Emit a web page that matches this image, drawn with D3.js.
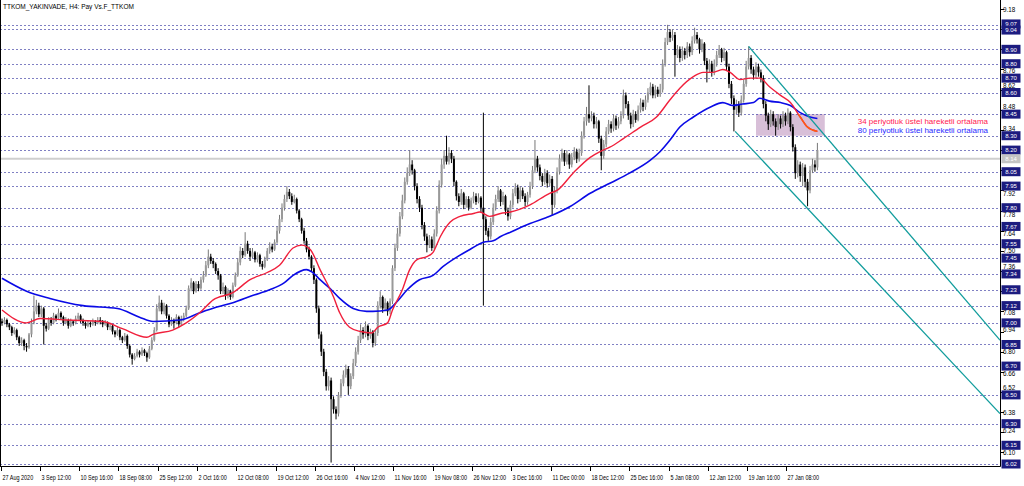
<!DOCTYPE html>
<html><head><meta charset="utf-8">
<script src="https://cdn.jsdelivr.net/npm/d3@7"></script>
<style>html,body{margin:0;padding:0;background:#fff;}svg{display:block;}text{font-family:"Liberation Sans",Arial,sans-serif;}</style>
</head><body><svg id="c" width="1024" height="486"></svg>
<script>
const chartTitle="TTKOM_YAKINVADE, H4:  Pay Vs.F_TTKOM";
const opens=[7.01,7.00,7.02,6.99,6.97,6.93,6.95,6.90,6.86,6.88,
6.84,6.83,6.92,7.00,7.08,7.12,7.06,7.10,6.98,6.96,
7.02,7.00,7.05,7.03,7.07,7.04,7.00,7.02,6.98,7.01,
7.00,7.03,7.05,7.02,7.00,6.98,7.00,6.99,7.01,7.00,
7.02,7.01,6.99,7.00,6.97,6.98,6.94,6.92,6.95,6.90,
6.88,6.91,6.84,6.78,6.75,6.77,6.80,6.78,6.81,6.79,
6.76,6.82,6.88,6.95,7.10,7.14,7.08,7.12,7.05,6.99,
7.02,7.00,7.04,6.99,7.03,7.05,7.10,7.24,7.28,7.22,
7.27,7.24,7.30,7.33,7.40,7.46,7.43,7.41,7.36,7.33,
7.22,7.25,7.19,7.22,7.18,7.26,7.33,7.42,7.50,7.47,
7.55,7.50,7.46,7.49,7.44,7.47,7.41,7.39,7.44,7.50,
7.53,7.51,7.56,7.64,7.72,7.80,7.86,7.91,7.88,7.84,
7.86,7.78,7.72,7.64,7.57,7.51,7.46,7.38,7.30,7.10,
6.92,6.80,6.66,6.56,6.60,6.47,6.40,6.37,6.50,6.58,
6.64,6.68,6.56,6.63,6.72,6.80,6.88,6.95,6.92,6.98,
6.91,6.94,6.86,6.93,7.12,7.18,7.10,7.14,7.08,7.15,
7.38,7.52,7.62,7.74,7.85,7.98,8.04,8.10,8.06,7.95,
7.86,7.80,7.68,7.60,7.54,7.58,7.52,7.62,7.78,7.96,
8.10,8.16,8.12,8.18,8.14,7.98,7.88,7.84,7.90,7.82,
7.86,7.80,7.85,7.88,7.84,7.87,7.80,7.72,7.64,7.60,
7.70,7.80,7.86,7.92,7.84,7.88,7.78,7.74,7.82,7.90,
7.94,7.86,7.92,7.88,7.84,7.89,7.95,8.06,8.14,8.08,
8.02,7.98,8.04,7.97,8.00,7.82,7.92,8.05,8.14,8.18,
8.12,8.17,8.10,8.15,8.19,8.14,8.18,8.30,8.40,8.45,
8.42,8.44,8.38,8.40,8.28,8.16,8.24,8.33,8.38,8.35,
8.42,8.37,8.40,8.44,8.58,8.52,8.44,8.38,8.45,8.41,
8.48,8.53,8.50,8.55,8.60,8.64,8.58,8.62,8.59,8.62,
8.80,8.95,9.02,8.98,9.00,8.86,8.90,8.84,8.89,8.86,
8.92,8.88,8.96,9.00,8.97,8.90,8.94,8.82,8.76,8.80,
8.74,8.80,8.86,8.90,8.84,8.88,8.78,8.66,8.56,8.48,
8.52,8.46,8.55,8.66,8.78,8.84,8.76,8.72,8.78,8.74,
8.70,8.52,8.44,8.38,8.45,8.40,8.36,8.42,8.38,8.44,
8.40,8.46,8.36,8.22,8.04,8.10,8.02,8.08,7.98,7.92,
8.06,8.10,8.08];
const highs=[7.03,7.04,7.03,7.00,6.98,6.97,6.96,6.91,6.90,6.89,
6.86,6.93,7.03,7.19,7.16,7.14,7.12,7.11,7.00,7.04,
7.04,7.07,7.06,7.10,7.08,7.05,7.04,7.03,7.03,7.02,
7.05,7.07,7.06,7.03,7.01,7.02,7.01,7.03,7.02,7.04,
7.04,7.02,7.02,7.01,7.00,6.99,6.95,6.97,6.96,6.91,
6.93,6.92,6.85,6.79,6.79,6.82,6.81,6.83,6.82,6.80,
6.84,6.90,6.97,7.13,7.19,7.16,7.14,7.13,7.06,7.04,
7.03,7.06,7.05,7.05,7.07,7.12,7.26,7.31,7.29,7.29,
7.29,7.32,7.36,7.43,7.51,7.48,7.45,7.42,7.38,7.34,
7.28,7.26,7.24,7.23,7.28,7.35,7.45,7.53,7.52,7.63,
7.57,7.52,7.52,7.50,7.49,7.48,7.43,7.46,7.52,7.56,
7.55,7.58,7.67,7.75,7.83,7.89,7.95,7.93,7.90,7.89,
7.87,7.79,7.73,7.66,7.59,7.53,7.47,7.40,7.31,7.12,
6.94,6.82,6.68,6.63,6.62,6.49,6.42,6.52,6.61,6.67,
6.71,6.70,6.65,6.75,6.83,6.91,6.99,6.97,7.01,6.99,
6.96,6.95,6.95,7.15,7.22,7.19,7.17,7.15,7.17,7.40,
7.55,7.66,7.77,7.89,8.01,8.08,8.20,8.13,8.07,7.97,
7.88,7.82,7.70,7.62,7.61,7.60,7.65,7.81,7.99,8.14,
8.20,8.30,8.22,8.20,8.16,7.99,7.90,7.93,7.91,7.88,
7.88,7.87,7.91,7.90,7.90,7.88,8.46,7.74,7.66,7.73,
7.83,7.89,7.95,7.93,7.91,7.89,7.80,7.85,7.93,7.97,
7.96,7.95,7.94,7.90,7.91,7.98,8.09,8.27,8.16,8.10,
8.04,8.07,8.06,8.03,8.02,7.95,8.08,8.17,8.21,8.20,
8.20,8.18,8.18,8.22,8.21,8.21,8.33,8.43,8.50,8.65,
8.47,8.46,8.43,8.41,8.30,8.27,8.36,8.41,8.40,8.45,
8.44,8.43,8.47,8.62,8.60,8.54,8.46,8.48,8.47,8.51,
8.56,8.55,8.58,8.63,8.67,8.66,8.65,8.64,8.66,8.83,
8.98,9.07,9.04,9.04,9.02,8.93,8.92,8.92,8.91,8.95,
8.94,8.99,9.05,9.02,8.98,8.97,8.95,8.84,8.83,8.82,
8.83,8.89,8.93,8.91,8.91,8.89,8.80,8.68,8.58,8.55,
8.54,8.58,8.69,8.82,8.92,8.86,8.78,8.81,8.80,8.76,
8.72,8.54,8.46,8.48,8.47,8.42,8.45,8.44,8.47,8.46,
8.49,8.47,8.38,8.24,8.13,8.12,8.11,8.10,8.00,8.09,
8.14,8.13,8.25];
const lows=[6.98,6.99,6.97,6.95,6.91,6.92,6.88,6.84,6.84,6.81,
6.80,6.82,6.90,6.99,7.06,7.04,7.04,6.85,6.94,6.95,
6.98,6.99,7.01,7.02,7.02,6.98,6.99,6.96,6.97,6.98,
6.99,7.02,7.00,6.98,6.96,6.97,6.97,6.98,6.98,6.99,
6.99,6.97,6.98,6.95,6.95,6.92,6.90,6.91,6.88,6.86,
6.87,6.82,6.76,6.71,6.74,6.76,6.76,6.77,6.77,6.73,
6.75,6.81,6.87,6.94,7.08,7.06,7.06,7.03,6.97,6.98,
6.96,6.99,6.97,6.98,7.01,7.04,7.09,7.22,7.20,7.21,
7.22,7.23,7.28,7.32,7.38,7.41,7.38,7.34,7.30,7.20,
7.20,7.16,7.17,7.16,7.17,7.25,7.32,7.40,7.45,7.46,
7.48,7.43,7.45,7.42,7.42,7.39,7.37,7.38,7.43,7.48,
7.49,7.50,7.55,7.62,7.70,7.78,7.84,7.86,7.82,7.83,
7.76,7.70,7.62,7.55,7.49,7.44,7.36,7.27,7.07,6.89,
6.77,6.63,6.53,6.53,6.03,6.37,6.33,6.35,6.48,6.56,
6.62,6.50,6.54,6.61,6.70,6.78,6.86,6.89,6.90,6.88,
6.89,6.83,6.84,6.91,7.10,7.07,7.08,7.05,7.06,7.13,
7.36,7.50,7.60,7.72,7.83,7.96,8.02,8.03,7.92,7.83,
7.77,7.65,7.57,7.49,7.52,7.50,7.51,7.60,7.76,7.94,
8.07,8.10,8.10,8.11,7.95,7.85,7.81,7.82,7.79,7.80,
7.78,7.79,7.83,7.82,7.83,7.77,7.12,7.61,7.57,7.58,
7.68,7.78,7.84,7.81,7.82,7.75,7.71,7.72,7.80,7.88,
7.83,7.84,7.86,7.81,7.82,7.87,7.93,8.04,8.05,7.99,
7.95,7.96,7.94,7.95,7.75,7.80,7.90,8.03,8.12,8.09,
8.10,8.07,8.08,8.13,8.11,8.12,8.16,8.28,8.37,8.39,
8.40,8.35,8.35,8.25,8.06,8.14,8.22,8.31,8.32,8.33,
8.34,8.35,8.38,8.42,8.49,8.41,8.35,8.36,8.39,8.40,
8.46,8.47,8.48,8.53,8.58,8.56,8.56,8.57,8.57,8.60,
8.78,8.93,8.95,8.96,8.71,8.84,8.81,8.82,8.83,8.84,
8.85,8.86,8.94,8.94,8.87,8.88,8.79,8.67,8.74,8.71,
8.72,8.78,8.84,8.81,8.82,8.75,8.63,8.52,8.33,8.45,
8.43,8.44,8.53,8.64,8.76,8.73,8.69,8.70,8.71,8.67,
8.49,8.40,8.34,8.36,8.37,8.30,8.34,8.35,8.36,8.37,
8.38,8.33,8.19,8.00,8.01,7.98,7.95,7.94,7.81,7.90,
8.04,8.05,8.06];
const closes=[7.00,7.02,6.99,6.97,6.93,6.95,6.90,6.86,6.88,6.84,
6.83,6.92,7.00,7.08,7.12,7.06,7.10,6.98,6.96,7.02,
7.00,7.05,7.03,7.07,7.04,7.00,7.02,6.98,7.01,7.00,
7.03,7.05,7.02,7.00,6.98,7.00,6.99,7.01,7.00,7.02,
7.01,6.99,7.00,6.97,6.98,6.94,6.92,6.95,6.90,6.88,
6.91,6.84,6.78,6.75,6.77,6.80,6.78,6.81,6.79,6.76,
6.82,6.88,6.95,7.10,7.14,7.08,7.12,7.05,6.99,7.02,
7.00,7.04,6.99,7.03,7.05,7.10,7.24,7.28,7.22,7.27,
7.24,7.30,7.33,7.40,7.46,7.43,7.41,7.36,7.33,7.22,
7.25,7.19,7.22,7.18,7.26,7.33,7.42,7.50,7.47,7.55,
7.50,7.46,7.49,7.44,7.47,7.41,7.39,7.44,7.50,7.53,
7.51,7.56,7.64,7.72,7.80,7.86,7.91,7.88,7.84,7.86,
7.78,7.72,7.64,7.57,7.51,7.46,7.38,7.30,7.10,6.92,
6.80,6.66,6.56,6.60,6.47,6.40,6.37,6.50,6.58,6.64,
6.68,6.56,6.63,6.72,6.80,6.88,6.95,6.92,6.98,6.91,
6.94,6.86,6.93,7.12,7.18,7.10,7.14,7.08,7.15,7.38,
7.52,7.62,7.74,7.85,7.98,8.04,8.10,8.06,7.95,7.86,
7.80,7.68,7.60,7.54,7.58,7.52,7.62,7.78,7.96,8.10,
8.16,8.12,8.18,8.14,7.98,7.88,7.84,7.90,7.82,7.86,
7.80,7.85,7.88,7.84,7.87,7.80,7.72,7.64,7.60,7.70,
7.80,7.86,7.92,7.84,7.88,7.78,7.74,7.82,7.90,7.94,
7.86,7.92,7.88,7.84,7.89,7.95,8.06,8.14,8.08,8.02,
7.98,8.04,7.97,8.00,7.82,7.92,8.05,8.14,8.18,8.12,
8.17,8.10,8.15,8.19,8.14,8.18,8.30,8.40,8.45,8.42,
8.44,8.38,8.40,8.28,8.16,8.24,8.33,8.38,8.35,8.42,
8.37,8.40,8.44,8.58,8.52,8.44,8.38,8.45,8.41,8.48,
8.53,8.50,8.55,8.60,8.64,8.58,8.62,8.59,8.62,8.80,
8.95,9.02,8.98,9.00,8.86,8.90,8.84,8.89,8.86,8.92,
8.88,8.96,9.00,8.97,8.90,8.94,8.82,8.76,8.80,8.74,
8.80,8.86,8.90,8.84,8.88,8.78,8.66,8.56,8.48,8.52,
8.46,8.55,8.66,8.78,8.84,8.76,8.72,8.78,8.74,8.70,
8.52,8.44,8.38,8.45,8.40,8.36,8.42,8.38,8.44,8.40,
8.46,8.36,8.22,8.04,8.10,8.02,8.08,7.98,7.92,8.06,
8.10,8.08,8.20];

const emaFastBars=[0,10,15.5,26.5,41,49,59,61.5,69.5,75,80.5,86,94,101,108,113,118.5,122,125.5,129.5,135,137.5,141.5,146,150.5,153,157,159,163,166,169,173,175.5,178.5,182.5,186.5,192,194.5,198.5,203,207,215,223,226,232.5,239.5,243.5,247.5,253,260,266.5,272,276,281.5,285.5,289.5,293.5,296.5,300.5,304.5,308.5,312.5,317,321,325,328,332];
const emaFast=[7.09,7.00,7.03,7.02,7.01,6.96,6.90,6.92,6.95,7.00,7.07,7.16,7.21,7.30,7.35,7.40,7.52,7.54,7.51,7.37,7.18,7.07,6.97,6.94,6.93,6.97,7.00,7.09,7.23,7.37,7.44,7.46,7.49,7.60,7.70,7.74,7.76,7.77,7.74,7.76,7.77,7.82,7.90,7.92,8.04,8.15,8.19,8.22,8.28,8.36,8.43,8.55,8.63,8.71,8.74,8.74,8.76,8.74,8.69,8.70,8.70,8.64,8.58,8.53,8.43,8.36,8.33];
const emaSlowBars=[0,10,19.5,33,47,56,61.5,72.5,80.5,87.5,94,102,109,115,118.5,124,126.5,129.5,133.5,137.5,143,148.5,151,157,161,165,170,175.5,179.5,185.5,190.5,196,200,203,207,215,223,231.5,239.5,247.5,255.5,264,268,272,276,281.5,288.5,293.5,297.5,301.5,306,308.5,312.5,317,321,325,329,332];
const emaSlow=[7.31,7.22,7.17,7.12,7.10,7.04,7.01,7.02,7.07,7.11,7.14,7.19,7.23,7.28,7.33,7.37,7.35,7.30,7.24,7.17,7.10,7.08,7.08,7.09,7.15,7.23,7.30,7.33,7.39,7.46,7.51,7.56,7.57,7.60,7.63,7.69,7.74,7.81,7.90,7.97,8.04,8.13,8.19,8.27,8.36,8.43,8.50,8.53,8.51,8.52,8.53,8.56,8.54,8.53,8.51,8.46,8.43,8.42];

const levelLines=[9.07,9.04,8.90,8.80,8.70,8.60,8.45,8.30,8.20,8.05,7.95,7.80,7.67,7.55,7.45,7.34,7.23,7.12,7.00,6.85,6.70,6.50,6.30,6.15,6.02];
const priceTicks=[9.18,9.04,8.90,8.76,8.62,8.48,8.34,8.20,8.06,7.92,7.78,7.64,7.50,7.36,7.22,7.08,6.94,6.80,6.66,6.52,6.38,6.24,6.10];
const bidPrice=8.14;
const timeTickBars=[0,16,32,48,64,80,96,112,128,144,160,176,192,208,224,240,256,272,288,304,320];
const timeLabels=["27 Aug 2020","3 Sep 12:00","10 Sep 16:00","18 Sep 08:00","25 Sep 12:00","2 Oct 16:00","12 Oct 08:00","19 Oct 12:00","26 Oct 16:00","4 Nov 12:00","11 Nov 16:00","19 Nov 08:00","26 Nov 12:00","3 Dec 16:00","11 Dec 00:00","18 Dec 12:00","25 Dec 16:00","5 Jan 08:00","12 Jan 12:00","19 Jan 16:00","27 Jan 08:00"];
const upperTrend=[[304,8.92],[406.35,6.88]];
const lowerTrend=[[298.5,8.33],[406.35,6.37]];
const zoneBars=[307,335], zonePrices=[8.45,8.30];
const legendLabels=["34 periyotluk üstel hareketli ortalama","80 periyotluk üstel hareketli ortalama"];

const svg=d3.select("#c");
const P={l:0,r:1000,t:0,b:466};
const x=d3.scaleLinear().domain([0,406.35]).range([2,1000]);
const y=d3.scaleLinear().domain([6.02,9.18]).range([464,9]);

svg.append("rect").attr("width",1024).attr("height",486).attr("fill","#fff");
const defs=svg.append("defs");
defs.append("clipPath").attr("id","pc").append("rect")
  .attr("x",P.l+1).attr("y",P.t).attr("width",P.r-P.l-1).attr("height",P.b-P.t);
defs.append("clipPath").attr("id","zc").append("rect")
  .attr("x",x(zoneBars[0])).attr("y",y(zonePrices[0])).attr("width",x(zoneBars[1])-x(zoneBars[0])).attr("height",y(zonePrices[1])-y(zonePrices[0]));
const g=svg.append("g").attr("clip-path","url(#pc)");

// zone rectangle
g.append("rect").attr("x",x(zoneBars[0])).attr("y",y(zonePrices[0]))
 .attr("width",x(zoneBars[1])-x(zoneBars[0])).attr("height",y(zonePrices[1])-y(zonePrices[0]))
 .attr("fill","#d8bfd8");

// horizontal level lines
g.selectAll("line.lv").data(levelLines).enter().append("line")
 .attr("x1",P.l).attr("x2",P.r).attr("y1",d=>Math.round(y(d))+0.5).attr("y2",d=>Math.round(y(d))+0.5)
 .attr("stroke","#4b4bab").attr("stroke-dasharray","2,2").attr("stroke-width",1).attr("opacity",0.7);
// bid line
g.append("line").attr("x1",P.l).attr("x2",P.r).attr("y1",y(bidPrice)).attr("y2",y(bidPrice))
 .attr("stroke","#cfcfcf").attr("stroke-width",2);

// candles
const idx=d3.range(closes.length);
const cg=g.append("g");
cg.selectAll("line.w").data(idx).enter().append("line")
 .attr("x1",i=>x(i)).attr("x2",i=>x(i)).attr("y1",i=>y(highs[i])).attr("y2",i=>y(lows[i]))
 .attr("stroke",i=>closes[i]>=opens[i]?"#777":"#000").attr("stroke-width",1);
cg.selectAll("rect.b").data(idx).enter().append("rect")
 .attr("x",i=>x(i)-1).attr("width",2)
 .attr("y",i=>y(Math.max(opens[i],closes[i])))
 .attr("height",i=>Math.max(1,Math.abs(y(opens[i])-y(closes[i]))))
 .attr("fill",i=>closes[i]>=opens[i]?"#999":"#000");

// moving averages
const line=d3.line().x(d=>x(d[0])).y(d=>y(d[1])).curve(d3.curveMonotoneX);
const slowPts=emaSlowBars.map((b,k)=>[b,emaSlow[k]]);
const fastPts=emaFastBars.map((b,k)=>[b,emaFast[k]]);
g.append("path").attr("d",line(slowPts)).attr("fill","none").attr("stroke","#0a0ae6").attr("stroke-width",1.6);
g.append("path").attr("d",line(fastPts)).attr("fill","none").attr("stroke","#f0203c").attr("stroke-width",1.4);
g.append("path").attr("d",line(fastPts)).attr("fill","none").attr("stroke","#ff5a14").attr("stroke-width",1.5).attr("clip-path","url(#zc)");

// trend lines
[upperTrend,lowerTrend].forEach(t=>{
  g.append("line").attr("x1",x(t[0][0])).attr("y1",y(t[0][1])).attr("x2",x(t[1][0])).attr("y2",y(t[1][1]))
   .attr("stroke","#109c9c").attr("stroke-width",1.3);
});

// legend
const legColors=["#ff2050","#2a2aff"];
legendLabels.forEach((t,k)=>{
  svg.append("text").attr("x",988).attr("y",124+k*9).attr("text-anchor","end")
   .attr("font-size",8).attr("fill",legColors[k]).text(t);
});

// frame
svg.append("line").attr("x1",P.r+0.5).attr("x2",P.r+0.5).attr("y1",0).attr("y2",P.b+0.5).attr("stroke","#000");
svg.append("line").attr("x1",0).attr("x2",P.r+0.5).attr("y1",P.b+0.5).attr("y2",P.b+0.5).attr("stroke","#000");
svg.append("line").attr("x1",0.5).attr("x2",0.5).attr("y1",0).attr("y2",P.b+0.5).attr("stroke","#000");

// price axis ticks (labels sit clear of the level boxes)
const ax=svg.append("g");
priceTicks.forEach(v=>{
  const yy=Math.round(y(v))+0.5;
  ax.append("line").attr("x1",P.r).attr("x2",P.r+4).attr("y1",yy).attr("y2",yy).attr("stroke","#000");
  let nearest=null, dmin=1e9;
  levelLines.forEach(l=>{const d=y(l)-y(v); if(Math.abs(d)<Math.abs(dmin)){dmin=d;nearest=l;}});
  if(Math.abs(dmin)<2) return; // fully under a box
  let ty=yy+2.3;
  if(Math.abs(dmin)<9.5){ ty = dmin>0 ? y(nearest)-4.8 : y(nearest)+9.6; }
  ax.append("text").attr("x",P.r+3).attr("y",ty).attr("font-size",6.3).attr("fill","#000").text(v.toFixed(2));
});
levelLines.forEach((v,k)=>{
  const yy=y(v);
  // nudge labels of stacked boxes apart
  let dy=0;
  if(k>0 && y(v)-y(levelLines[k-1])<6) dy=0.9;
  if(k<levelLines.length-1 && y(levelLines[k+1])-y(v)<6) dy=-0.9;
  ax.append("rect").attr("x",P.r+1.5).attr("y",yy-4.5+dy).attr("width",19).attr("height",9).attr("fill","#1c1c80");
  ax.append("text").attr("x",P.r+11).attr("y",yy+2.2+dy).attr("text-anchor","middle").attr("font-size",6).attr("fill","#fff").text(v.toFixed(2));
});
ax.append("rect").attr("x",P.r+1.5).attr("y",y(bidPrice)-4.5).attr("width",19).attr("height",9).attr("fill","#c4c4c4");
ax.append("text").attr("x",P.r+11).attr("y",y(bidPrice)+2.2).attr("text-anchor","middle").attr("font-size",6).attr("fill","#fff").text(bidPrice.toFixed(2));

// time axis
timeTickBars.forEach((b,k)=>{
  const xx=Math.round(x(b)-1.5)+0.5;
  ax.append("line").attr("x1",xx).attr("x2",xx).attr("y1",P.b).attr("y2",P.b+5).attr("stroke","#000");
  const t=ax.append("text").attr("x",xx+1).attr("y",480).attr("font-size",6.5).attr("fill","#000").text(timeLabels[k]);
  const w=t.node().getComputedTextLength();
  t.attr("textLength",(w*0.84).toFixed(1)).attr("lengthAdjust","spacingAndGlyphs");
});

// title
svg.append("text").attr("x",3).attr("y",9).attr("font-size",6.5).attr("fill","#000").text(chartTitle);
</script></body></html>
